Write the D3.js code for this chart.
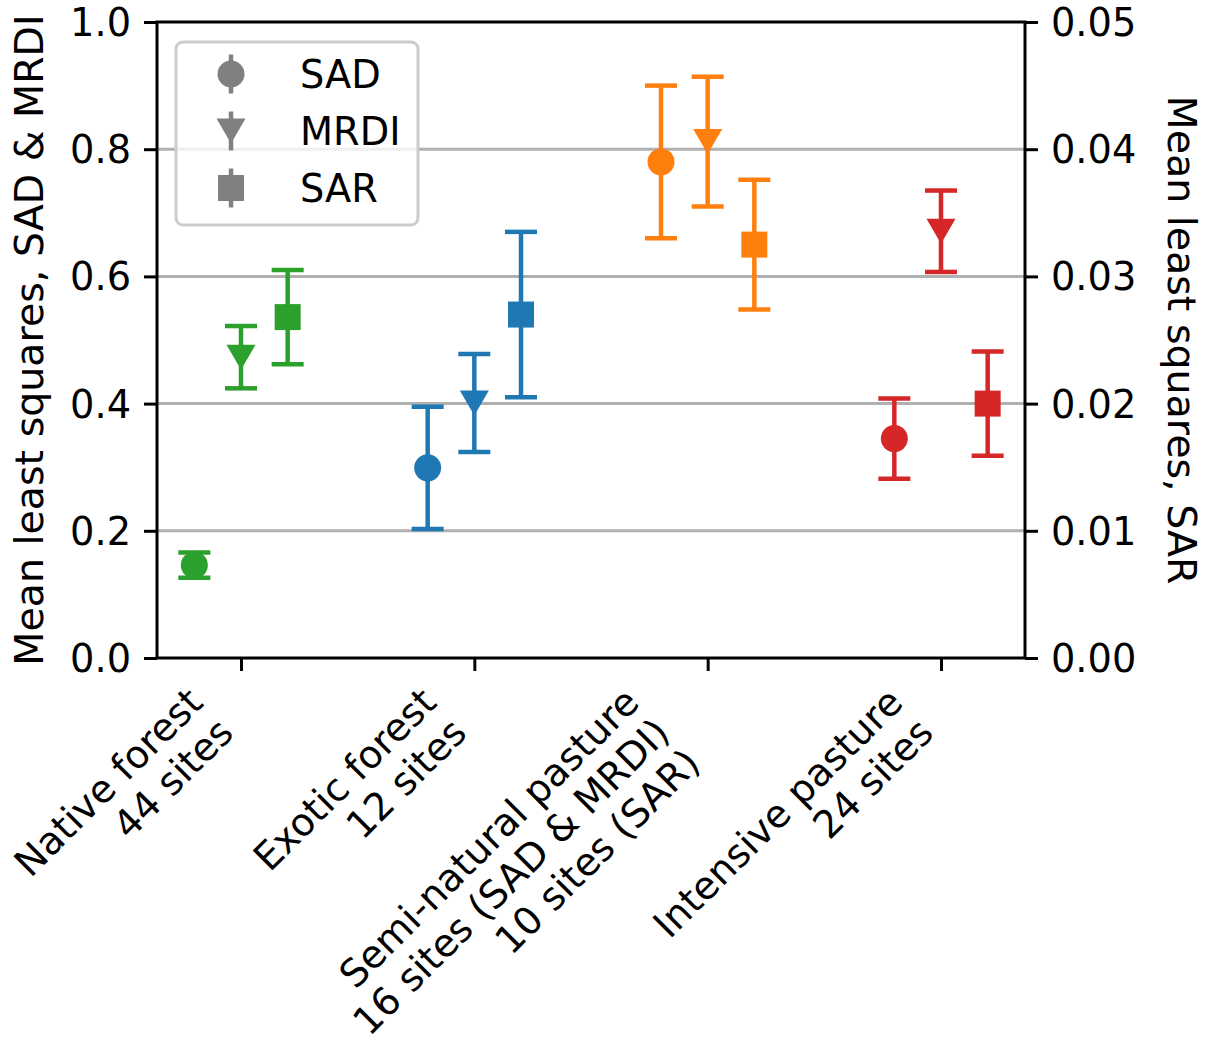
<!DOCTYPE html>
<html lang="en">
<head>
<meta charset="UTF-8">
<title>Mean least squares by land use</title>
<script src="https://cdn.jsdelivr.net/npm/d3@7"></script>
<style>
  body { margin: 0; background: #fff; }
  text { font-family: "DejaVu Sans", sans-serif; }
</style>
</head>
<body>
<script>
// data
var categories = [
    ["Native forest", "44 sites"],
    ["Exotic forest", "12 sites"],
    ["Semi-natural pasture", "16 sites (SAD & MRDI)", "10 sites (SAR)"],
    ["Intensive pasture", "24 sites"]
];
var colors = ["#2ca02c", "#1f77b4", "#ff7f0e", "#d62728"];

var sadMean = [0.146, 0.299, 0.780, 0.345];
var sadErr = [0.020, 0.096, 0.120, 0.063];
var mrdiMean = [0.473, 0.401, 0.812, 0.671];
var mrdiErr = [0.049, 0.077, 0.102, 0.064];
// SAR is on the right axis
var sarMean = [0.0268, 0.0270, 0.0325, 0.0200];
var sarErr = [0.0037, 0.0065, 0.0051, 0.0041];

var leftTicks = [0.0, 0.2, 0.4, 0.6, 0.8, 1.0];
var rightTicks = [0.00, 0.01, 0.02, 0.03, 0.04, 0.05];

var W = 1206, H = 1041;
var pLeft = 157, pRight = 1025, pTop = 22, pBottom = 658;
var fs = 38.3;       // tick / legend / category text
var fsLabel = 39.5;  // axis titles

var svg = d3.select("body").append("svg")
    .attr("width", W)
    .attr("height", H);

var x = d3.scaleLinear().domain([-0.36, 3.36]).range([pLeft, pRight]);
var y = d3.scaleLinear().domain([0, 1]).range([pBottom, pTop]);
var y2 = d3.scaleLinear().domain([0, 0.05]).range([pBottom, pTop]);

// grid
svg.append("g")
    .selectAll("line")
    .data(leftTicks.slice(1, -1))
    .enter().append("line")
    .attr("x1", pLeft).attr("x2", pRight)
    .attr("y1", d => y(d)).attr("y2", d => y(d))
    .attr("stroke", "#b0b0b0")
    .attr("stroke-width", 3);

// axes
var yAxisL = d3.axisLeft(y).tickValues(leftTicks).tickFormat(d3.format(".1f")).tickSize(13).tickPadding(13);
var yAxisR = d3.axisRight(y2).tickValues(rightTicks).tickFormat(d3.format(".2f")).tickSize(13).tickPadding(13);
var xAxis = d3.axisBottom(x).tickValues([0, 1, 2, 3]).tickFormat("").tickSize(13);

function styleAxis(g) {
    g.select(".domain").remove();
    g.selectAll(".tick line").attr("stroke", "#000").attr("stroke-width", 3);
    g.selectAll(".tick text")
        .attr("font-size", fs)
        .attr("fill", "#000")
        .attr("dy", null)
        .attr("dominant-baseline", "central");
}

svg.append("g").attr("transform", "translate(" + pLeft + ",0)").call(yAxisL).call(styleAxis);
svg.append("g").attr("transform", "translate(" + pRight + ",0)").call(yAxisR).call(styleAxis);
svg.append("g").attr("transform", "translate(0," + pBottom + ")").call(xAxis).call(styleAxis);

// rotated multi-line category labels, right aligned, bbox top-right at tick
var lineStep = 43, asc = 29, desc = 8;
var s45 = Math.SQRT1_2;
categories.forEach(function (lines, i) {
    var blockH = asc + (lines.length - 1) * lineStep + desc;
    var g = svg.append("g")
        .attr("transform", "translate(" + (x(i) - blockH * s45) + "," + (pBottom + 13 + 13) + ") rotate(-45)");
    lines.forEach(function (t, j) {
        g.append("text")
            .attr("x", 0)
            .attr("y", asc + j * lineStep)
            .attr("text-anchor", "end")
            .attr("font-size", fs)
            .text(t);
    });
});

// axis labels
svg.append("text")
    .attr("transform", "translate(43," + ((pTop + pBottom) / 2) + ") rotate(-90)")
    .attr("text-anchor", "middle")
    .attr("font-size", fsLabel)
    .text("Mean least squares, SAD & MRDI");

svg.append("text")
    .attr("transform", "translate(1168," + ((pTop + pBottom) / 2) + ") rotate(90)")
    .attr("text-anchor", "middle")
    .attr("font-size", fsLabel)
    .text("Mean least squares, SAR");

// markers
var symCircle = function (g, cx, cy, c) {
    g.append("circle").attr("cx", cx).attr("cy", cy).attr("r", 13.5).attr("fill", c);
};
var symTri = function (g, cx, cy, c) {
    g.append("path")
        .attr("d", "M" + (cx - 14.5) + "," + (cy - 12.5) + "L" + (cx + 14.5) + "," + (cy - 12.5) + "L" + cx + "," + (cy + 12.5) + "Z")
        .attr("fill", c);
};
var symSquare = function (g, cx, cy, c) {
    g.append("rect").attr("x", cx - 13).attr("y", cy - 13).attr("width", 26).attr("height", 26).attr("fill", c);
};

function errorbars(means, errs, offset, scale, sym) {
    var g = svg.append("g");
    means.forEach(function (m, i) {
        var cx = x(i + offset), c = colors[i];
        var y0 = scale(m - errs[i]), y1 = scale(m + errs[i]);
        g.append("line").attr("x1", cx).attr("x2", cx).attr("y1", y0).attr("y2", y1)
            .attr("stroke", c).attr("stroke-width", 4.5);
        [y0, y1].forEach(function (yy) {
            g.append("line").attr("x1", cx - 16).attr("x2", cx + 16).attr("y1", yy).attr("y2", yy)
                .attr("stroke", c).attr("stroke-width", 4.5);
        });
        sym(g, cx, scale(m), c);
    });
}

errorbars(sadMean, sadErr, -0.2, y, symCircle);
errorbars(mrdiMean, mrdiErr, 0, y, symTri);
errorbars(sarMean, sarErr, 0.2, y2, symSquare);

// spines
svg.append("rect")
    .attr("x", pLeft).attr("y", pTop)
    .attr("width", pRight - pLeft).attr("height", pBottom - pTop)
    .attr("fill", "none")
    .attr("stroke", "#000")
    .attr("stroke-width", 3);

// legend
var leg = svg.append("g");
leg.append("rect")
    .attr("x", 176).attr("y", 42).attr("width", 242).attr("height", 183)
    .attr("rx", 7)
    .attr("fill", "#fff").attr("fill-opacity", 0.8)
    .attr("stroke", "#cccccc").attr("stroke-width", 3);
var legItems = [["SAD", symCircle], ["MRDI", symTri], ["SAR", symSquare]];
legItems.forEach(function (d, i) {
    var cy = 74 + i * 57;
    leg.append("line").attr("x1", 231).attr("x2", 231).attr("y1", cy - 19.5).attr("y2", cy + 19.5)
        .attr("stroke", "#808080").attr("stroke-width", 4.5);
    d[1](leg, 231, cy, "#808080");
    leg.append("text")
        .attr("x", 300).attr("y", cy)
        .attr("dominant-baseline", "central")
        .attr("font-size", fs)
        .text(d[0]);
});
</script>
</body>
</html>
